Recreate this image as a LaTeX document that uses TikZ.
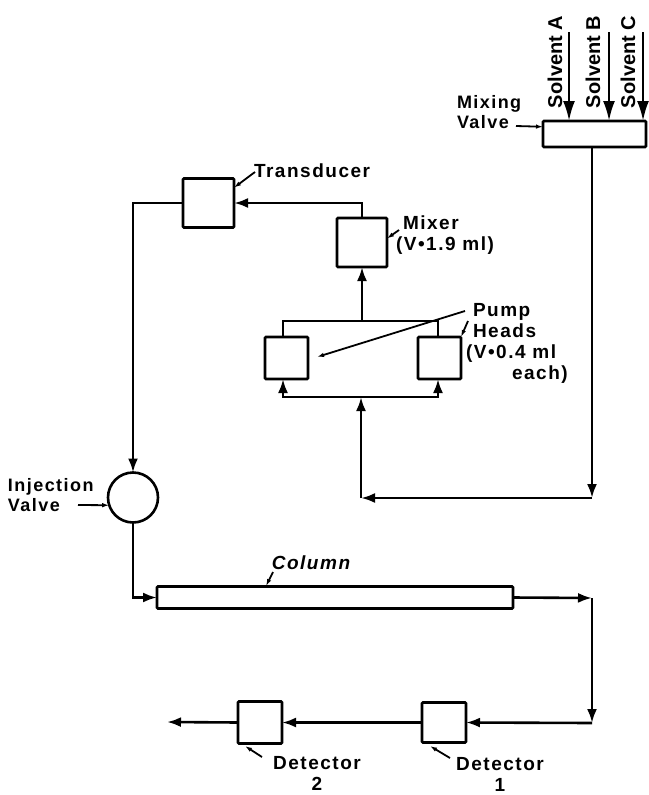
\documentclass[tikz,border=0pt]{standalone}
\usepackage{fontspec}
\setmainfont{Liberation Sans}[LetterSpace=8]
\newfontfamily\solventfont{Liberation Sans}[LetterSpace=0]
\usetikzlibrary{positioning}
\usetikzlibrary{arrows.meta}
\tikzset{
	unit/.style={draw,rectangle,line width=2.6pt,rounded corners=1pt,inner sep=0pt,outer sep=0pt},
	flow/.style={line width=2.6pt},
	flowin/.style={flow,-{Latex[length=14pt,width=10pt]}},
	leader/.style={line width=1.8pt,-{Latex[length=7pt,width=4.5pt]}},
	lbl/.style={inner sep=0pt,outer sep=0pt,align=left,font=\bfseries\fontsize{19}{21}\selectfont},
	lblsmall/.style={lbl,font=\bfseries\fontsize{18}{20}\selectfont},
	solvent/.style={inner sep=0pt,outer sep=0pt,rotate=90,font=\solventfont\bfseries\fontsize{20}{22}\selectfont}
}

\begin{document}
\begin{tikzpicture}[x=1pt,y=-1pt]
				\useasboundingbox (0,0) rectangle (648,795);

				\node[unit,minimum width=103pt,minimum height=26pt] (valve) at (594.5,134) {};
				\node[unit,minimum width=50pt,minimum height=49pt] (mixer) [below left=71pt and 156pt of valve] {};
				\node[unit,minimum width=51pt,minimum height=49pt] (transducer) [left=103pt of mixer,yshift=39.5pt] {};
				\node[unit,minimum width=43pt,minimum height=42pt] (pumpL) [below left=70pt and 29pt of mixer] {};
				\node[unit,minimum width=43pt,minimum height=42pt] (pumpR) [right=110pt of pumpL] {};
				\node[draw,circle,line width=2.6pt,minimum size=50pt,inner sep=0pt,outer sep=0pt] (inject) [below=245pt of transducer,xshift=-75.5pt] {};
				\node[unit,minimum width=356pt,minimum height=22pt] (column) [below=64pt of inject,xshift=202pt] {};
				\node[unit,minimum width=44pt,minimum height=40pt] (det1) [below=94pt of column,xshift=109pt] {};
				\node[unit,minimum width=44pt,minimum height=42pt] (det2) [left=140pt of det1] {};

				\node[solvent] (solA) at (555,62) {Solvent A};
				\node[solvent] (solB) at (593,62) {Solvent B};
				\node[solvent] (solC) at (628,62) {Solvent C};
				\node[lblsmall,anchor=west] (lblValve) at (457,112) {Mixing\\Valve};
				\node[lbl,anchor=west] (lblTrans) at (254,171) {Transducer};
				\node[lbl,anchor=west] (lblMixer) at (396,235) {\hspace{7pt}Mixer\\(V•1.9 ml)};
				\node[lbl,anchor=west] (lblPump) at (466,343) {\hspace{7pt}Pump\\\hspace{7pt}Heads\\(V•0.4 ml\\\hspace{46pt}each)};
				\node[lblsmall,anchor=west] (lblInject) at (8,495) {Injection\\Valve};
				\node[lbl,anchor=center] (lblColumn) at (311,563) {\itshape Column};
				\node[lbl,anchor=center,align=center] (lblDet2) at (317,773) {Detector\\2};
				\node[lbl,anchor=center,align=center] (lblDet1) at (500,774) {Detector\\1};

				\coordinate (srcA) at (569,32);
				\coordinate (srcB) at (609,32);
				\coordinate (srcC) at (643,32);
				\coordinate (turn) at (592,498);
				\coordinate (feed) at (361,498);
				\coordinate (lowL) at (283,397);
				\coordinate (lowR) at (438,397);
				\coordinate (lowM) at (361,397);
				\coordinate (upL) at (283,321);
				\coordinate (upR) at (438,321);
				\coordinate (colOut) at (592,598);
				\coordinate (detIn) at (592,723);
				\coordinate (waste) at (167,722);
				\coordinate (valveTail) at (516,126);
				\coordinate (transTail) at (255,172);
				\coordinate (mixerTail) at (399,230);
				\coordinate (pumpTail) at (465,311);
				\coordinate (pumpTip) at (317,357);
				\coordinate (headTail) at (468,321);
				\coordinate (injectTail) at (78,505);
				\coordinate (colTail) at (273,572);
				\coordinate (colTip) at (266,586);
				\coordinate (det2Tail) at (262,757);
				\coordinate (det2Tip) at (245,746);
				\coordinate (det1Tail) at (450,758);
				\coordinate (det1Tip) at (430,746);

				\draw[flowin,-{Latex[length=20pt,width=12pt]}] (srcA) -- (srcA |- valve.north);
				\draw[flowin,-{Latex[length=20pt,width=12pt]}] (srcB) -- (srcB |- valve.north);
				\draw[flowin,-{Latex[length=20pt,width=12pt]}] (srcC) -- (srcC |- valve.north);

				\draw[flowin] (valve.south -| turn) -- (turn);
				\draw[flowin] (turn) -- (feed);
				\draw[flowin] (feed) -- (lowM);
				\draw[flowin] (lowM) -- (lowL) -- (lowL |- pumpL.south);
				\draw[flowin] (lowM) -- (lowR) -- (lowR |- pumpR.south);
				\path[draw,flow]
				(pumpL.north -| upL) -- (upL) -- (upR) -- (pumpR.north -| upR)
				;
				\draw[flowin] (mixer.south |- upL) -- (mixer.south);
				\draw[flowin] (mixer.north) |- (transducer.east);
				\draw[flowin] (transducer.west) -| (inject.north);
				\draw[flowin] (inject.south) |- (column.west);
				\draw[flowin] (column.east) -- (colOut);
				\draw[flowin] (colOut) -- (detIn);
				\draw[flowin] (detIn) -- (det1.east);
				\draw[flowin] (det1.west) -- (det2.east);
				\draw[flowin] (det2.west) -- (waste);

				\draw[leader] (valveTail) -- (valve.172);
				\draw[leader] (transTail) -- (transducer.31);
				\draw[leader] (mixerTail) -- (mixer.9);
				\draw[leader] (pumpTail) -- (pumpTip);
				\draw[leader] (headTail) -- (pumpR.north east);
				\draw[leader] (injectTail) -- (inject.198);
				\draw[leader] (colTail) -- (colTip);
				\draw[leader] (det2Tail) -- (det2Tip);
				\draw[leader] (det1Tail) -- (det1Tip);
			\end{tikzpicture}
\end{document}
